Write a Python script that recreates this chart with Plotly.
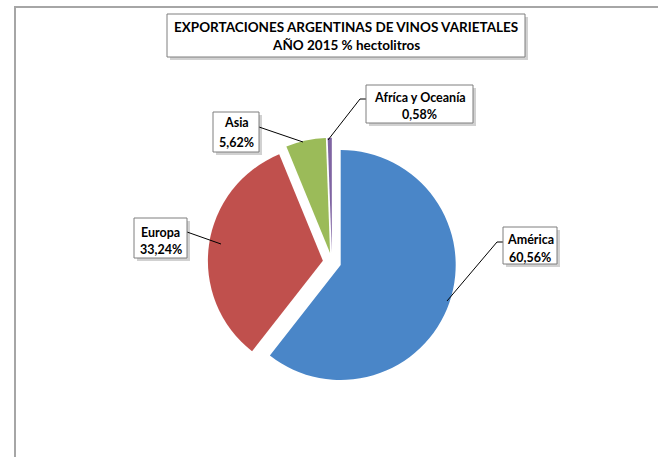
import plotly.graph_objects as go

# ---- data ----
categories = ["América", "Europa", "Asia", "Afríca y Oceanía"]
values = [60.56, 33.24, 5.62, 0.58]
colors = ["#4A86C8", "#C0504D", "#9BBB59", "#7F64A2"]
title_lines = ["EXPORTACIONES ARGENTINAS DE VINOS VARIETALES", "AÑO 2015 % hectolitros"]

W, H = 658, 457
FONT = "Lato"

def px(x):
    return x / W

def py(y):
    return 1 - y / H

# pie geometry (pixels)
cx, cy, R, pull = 332, 262, 115, 0.08
half = R * (1 + pull)

fig = go.Figure()
fig.add_trace(go.Pie(
    labels=categories,
    values=values,
    sort=False,
    direction="clockwise",
    rotation=0,
    pull=[pull] * len(values),
    marker=dict(colors=colors, line=dict(width=0)),
    textinfo="none",
    hoverinfo="label+percent",
    showlegend=False,
    domain=dict(x=[px(cx - half), px(cx + half)], y=[py(cy + half), py(cy - half)]),
))

shapes = []
annotations = []

def box(x0, y0, x1, y1):
    # shadow
    shapes.append(dict(type="rect", xref="paper", yref="paper",
                       x0=px(x0 + 3), x1=px(x1 + 3), y0=py(y1 + 3), y1=py(y0 + 3),
                       line=dict(width=0), fillcolor="rgba(0,0,0,0.18)", layer="above"))
    shapes.append(dict(type="rect", xref="paper", yref="paper",
                       x0=px(x0), x1=px(x1), y0=py(y1), y1=py(y0),
                       line=dict(width=1, color="#7F7F7F"), fillcolor="white", layer="above"))

def text(x, y, s, size):
    annotations.append(dict(x=px(x), y=py(y), xref="paper", yref="paper", text="<b>" + s + "</b>",
                            showarrow=False, xanchor="center", yanchor="middle",
                            font=dict(family=FONT, size=size, color="black")))

def leader(points):
    path = "M " + " L ".join(f"{px(x)},{py(y)}" for x, y in points)
    shapes.append(dict(type="path", xref="paper", yref="paper", path=path,
                       line=dict(color="black", width=1), layer="above"))

def fmt(v):
    return f"{v:.2f}".replace(".", ",") + "%"

# frame lines
shapes.append(dict(type="line", xref="paper", yref="paper", x0=px(15), x1=1, y0=py(7), y1=py(7),
                   line=dict(color="#A6A6A6", width=2)))
shapes.append(dict(type="line", xref="paper", yref="paper", x0=px(15), x1=px(15), y0=py(6), y1=0,
                   line=dict(color="#A6A6A6", width=2)))

# title
box(167, 14, 525, 57)
text(346, 27, title_lines[0], 13.5)
text(346, 45, title_lines[1], 13.5)

# label boxes: (box, text center, leader)
label_specs = [
    ((503, 227, 557, 264), (530, 239, 257), [(503, 242), (497, 242), (447, 301)]),
    ((134, 218, 187, 258), (160.5, 232, 249), [(187, 232), (221, 244)]),
    ((213, 112, 259, 152), (236, 123, 142), [(259, 127), (303, 142)]),
    ((366, 85, 473, 123), (419.5, 97, 114), [(366, 99), (360, 99), (328, 140)]),
]
for i, (b, t, l) in enumerate(label_specs):
    leader(l)
    box(*b)
    text(t[0], t[1], categories[i], 12.5)
    text(t[0], t[2], fmt(values[i]), 12.5)

fig.update_layout(
    width=W, height=H,
    margin=dict(l=0, r=0, t=0, b=0),
    paper_bgcolor="white", plot_bgcolor="white",
    shapes=shapes, annotations=annotations,
)

fig.write_html("out.html", config={"displayModeBar": False},
               post_script="document.body.style.margin='0';document.body.style.overflow='hidden';")
